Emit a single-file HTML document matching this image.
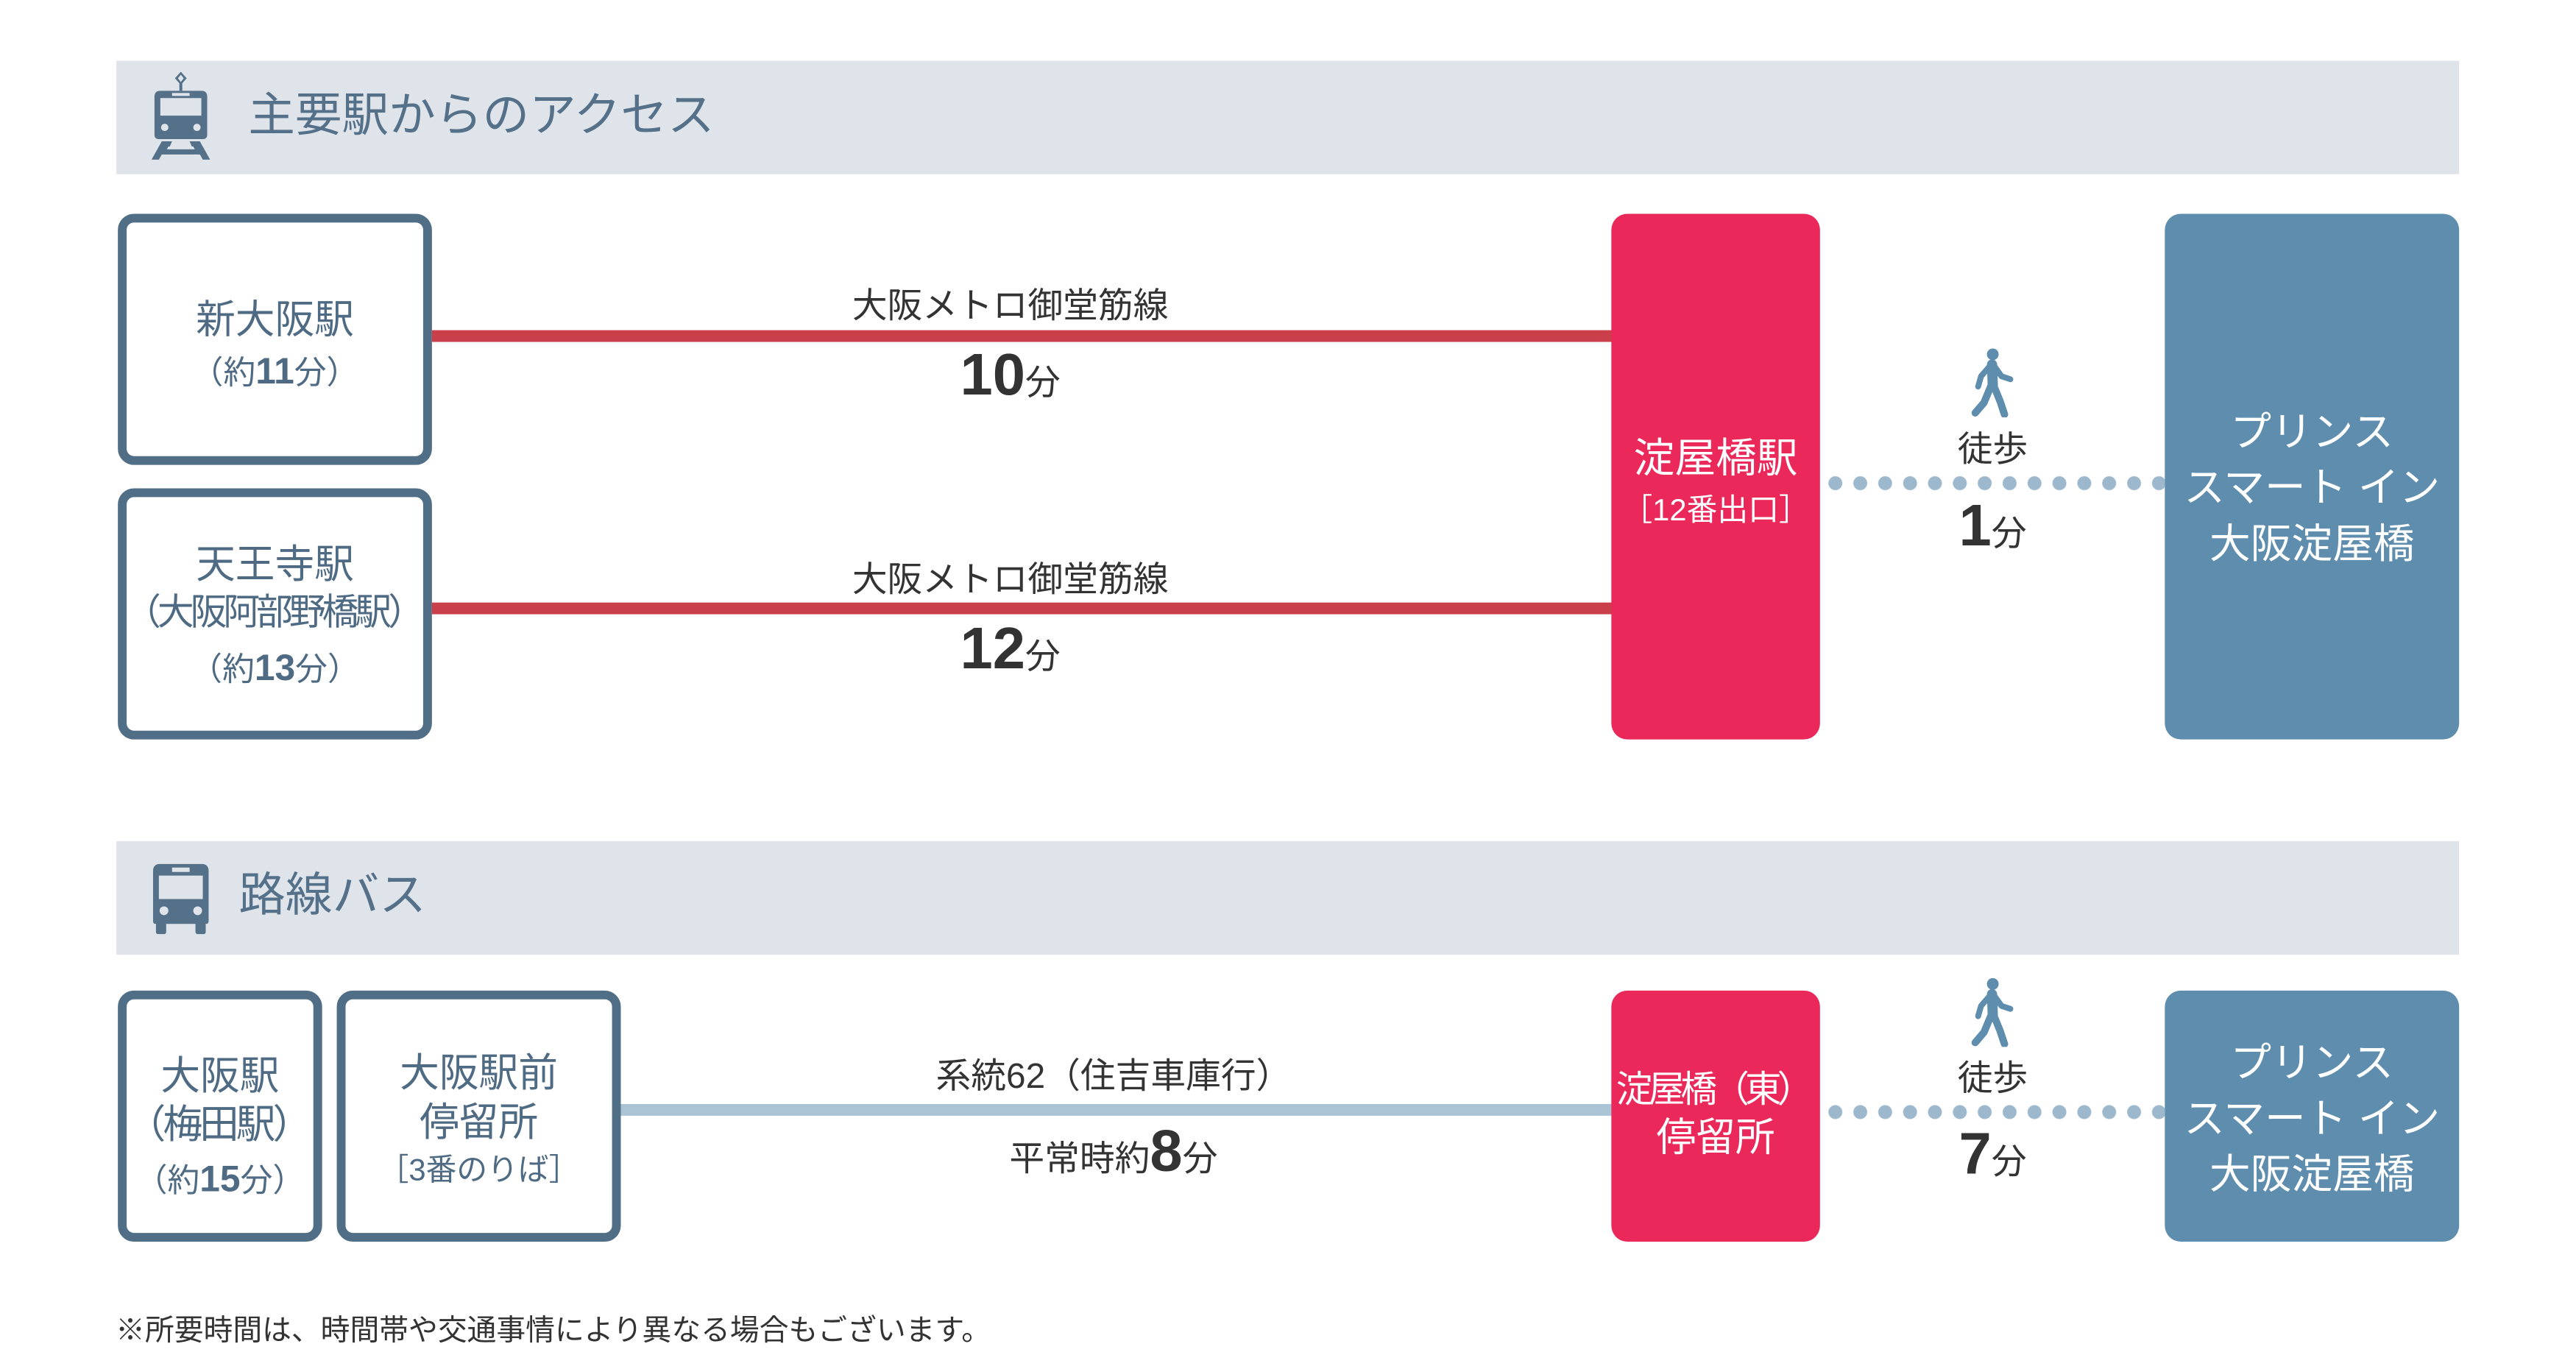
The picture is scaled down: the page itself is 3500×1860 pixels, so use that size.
<!DOCTYPE html>
<html><head><meta charset="utf-8">
<style>
*{margin:0;padding:0;box-sizing:border-box}
body{width:3500px;height:1858px;background:#fff;position:relative;overflow:hidden;font-family:"Liberation Sans","Noto Sans CJK JP",sans-serif}
#w{position:absolute;left:0;top:0;width:3520px;height:1870px;transform:scale(0.9947);transform-origin:0 0}
.a{position:absolute}
.hdr{position:absolute;left:159px;width:3200px;height:155px;background:#dfe4eb}
.ht{position:absolute;color:#557089;font-size:64px;line-height:1;white-space:nowrap}
.box{position:absolute;border:12px solid #516e87;border-radius:22px;background:#fff;color:#4f6b84}
.fill{position:absolute;border-radius:22px;color:#fff}
.t{position:absolute;left:0;right:0;text-align:center;white-space:nowrap;line-height:1}
.d{color:#333}
.n{font-family:"Liberation Sans",sans-serif;font-weight:bold}
.dots{position:absolute;height:20px;background-image:radial-gradient(circle,#9db8cc 9px,transparent 10px);background-size:34px 20px;background-repeat:repeat-x}
</style></head><body><div id="w">

<div class="hdr" style="top:83px"></div>
<svg class="a" style="left:205px;top:98px" width="84" height="122" viewBox="0 0 84 122">
<g fill="#557089">
<path d="M42 0 L50 9 L42 18 L34 9Z M42 4 L46 9 L42 14 L38 9Z" fill-rule="evenodd"/>
<rect x="40" y="16" width="4" height="10"/>
<path d="M14 26 H70 Q78 26 78 34 V86 Q78 92 72 92 H12 Q6 92 6 86 V34 Q6 26 14 26Z M14 36 V60 H70 V36Z" fill-rule="evenodd"/>
<rect x="30" y="29" width="24" height="4" fill="#dfe4eb"/>
<circle cx="20" cy="76" r="5" fill="#dfe4eb"/><circle cx="64" cy="76" r="5" fill="#dfe4eb"/>
<path d="M16 95 H30 L27 102 H57 L54 95 H68 L82 120 H72 L68 113 H16 L12 120 H2Z M23 106 H61 L59 102 H25Z" fill-rule="evenodd"/>
</g></svg>
<div class="ht" style="left:339px;top:125px">主要駅からのアクセス</div>

<div class="box" style="left:161px;top:292px;width:429px;height:343px">
<div class="t" style="top:106px;font-size:54px">新大阪駅</div>
<div class="t" style="top:178px;font-size:44px">（約<span class="n" style="font-size:50px">11</span>分）</div>
</div>
<div class="box" style="left:161px;top:667px;width:429px;height:343px">
<div class="t" style="top:65px;font-size:54px">天王寺駅</div>
<div class="t" style="top:132px;font-size:50px;letter-spacing:-5px;margin-left:-6px">（大阪阿部野橋駅）</div>
<div class="t" style="top:208px;font-size:44px">（約<span class="n" style="font-size:50px">13</span>分）</div>
</div>

<div class="a" style="left:590px;top:451px;width:1612px;height:16px;background:#c9404a"></div>
<div class="a" style="left:590px;top:823px;width:1612px;height:16px;background:#c9404a"></div>
<div class="a d" style="left:1000px;width:760px;top:378px;text-align:center;font-size:48px">大阪メトロ御堂筋線</div>
<div class="a d" style="left:1000px;width:760px;top:466px;text-align:center;font-size:48px"><span class="n" style="font-size:80px">10</span>分</div>
<div class="a d" style="left:1000px;width:760px;top:752px;text-align:center;font-size:48px">大阪メトロ御堂筋線</div>
<div class="a d" style="left:1000px;width:760px;top:840px;text-align:center;font-size:48px"><span class="n" style="font-size:80px">12</span>分</div>

<div class="fill" style="left:2201px;top:292px;width:285px;height:718px;background:#ea285a">
<div class="t" style="top:306px;font-size:56px">淀屋橋駅</div>
<div class="t" style="top:384px;font-size:42px">［12番出口］</div>
</div>

<svg class="a" style="left:2688px;top:476px" width="68" height="94" viewBox="0 0 68 94">
<g fill="none" stroke="#5f8dae" stroke-linecap="round" stroke-linejoin="round">
<circle cx="34" cy="8" r="8" fill="#5f8dae" stroke="none"/>
<path d="M33 22 L34 50" stroke-width="14"/>
<path d="M30 24 L18 38 L14 52 M36 24 L46 38 L58 42" stroke-width="8"/>
<path d="M32 50 L22 74 L10 88 M35 50 L44 72 L50 90" stroke-width="10"/>
</g></svg>
<div class="a d" style="left:2600px;width:244px;top:574px;text-align:center;font-size:48px">徒歩</div>
<div class="dots" style="left:2490px;width:467px;top:650px"></div>
<div class="a d" style="left:2600px;width:244px;top:672px;text-align:center;font-size:48px"><span class="n" style="font-size:80px">1</span>分</div>

<div class="fill" style="left:2957px;top:292px;width:402px;height:718px;background:#5f8dae">
<div class="t" style="top:270px;font-size:56px">プリンス</div>
<div class="t" style="top:346px;font-size:56px">スマート イン</div>
<div class="t" style="top:423px;font-size:56px">大阪淀屋橋</div>
</div>

<div class="hdr" style="top:1149px"></div>
<svg class="a" style="left:209px;top:1180px" width="76" height="96" viewBox="0 0 76 96">
<g fill="#557089">
<path d="M10 0 H66 Q76 0 76 10 V78 Q76 82 72 82 H4 Q0 82 0 78 V10 Q0 0 10 0Z M8 16 V48 H68 V16Z" fill-rule="evenodd"/>
<rect x="26" y="5" width="24" height="6" fill="#dfe4eb"/>
<circle cx="15" cy="64" r="6" fill="#dfe4eb"/><circle cx="61" cy="64" r="6" fill="#dfe4eb"/>
<rect x="4" y="80" width="14" height="16" rx="3"/><rect x="58" y="80" width="14" height="16" rx="3"/>
</g></svg>
<div class="ht" style="left:326px;top:1190px">路線バス</div>

<div class="box" style="left:161px;top:1353px;width:279px;height:343px">
<div class="t" style="top:78px;font-size:54px">大阪駅</div>
<div class="t" style="top:144px;font-size:54px;letter-spacing:-4px;margin-left:-6px">（梅田駅）</div>
<div class="t" style="top:220px;font-size:44px">（約<span class="n" style="font-size:50px">15</span>分）</div>
</div>
<div class="box" style="left:460px;top:1353px;width:388px;height:343px">
<div class="t" style="top:74px;font-size:54px">大阪駅前</div>
<div class="t" style="top:141px;font-size:54px">停留所</div>
<div class="t" style="top:212px;font-size:42px">［3番のりば］</div>
</div>

<div class="a" style="left:848px;top:1508px;width:1354px;height:16px;background:#aac3d5"></div>
<div class="a d" style="left:1100px;width:842px;top:1430px;text-align:center;font-size:48px">系統62（住吉車庫行）</div>
<div class="a d" style="left:1100px;width:842px;top:1526px;text-align:center;font-size:48px">平常時約<span class="n" style="font-size:80px">8</span>分</div>

<div class="fill" style="left:2201px;top:1353px;width:285px;height:343px;background:#ea285a">
<div class="t" style="top:110px;font-size:50px;letter-spacing:-6px;margin-left:-8px">淀屋橋（東）</div>
<div class="t" style="top:174px;font-size:54px">停留所</div>
</div>

<svg class="a" style="left:2688px;top:1336px" width="68" height="94" viewBox="0 0 68 94">
<g fill="none" stroke="#5f8dae" stroke-linecap="round" stroke-linejoin="round">
<circle cx="34" cy="8" r="8" fill="#5f8dae" stroke="none"/>
<path d="M33 22 L34 50" stroke-width="14"/>
<path d="M30 24 L18 38 L14 52 M36 24 L46 38 L58 42" stroke-width="8"/>
<path d="M32 50 L22 74 L10 88 M35 50 L44 72 L50 90" stroke-width="10"/>
</g></svg>
<div class="a d" style="left:2600px;width:244px;top:1433px;text-align:center;font-size:48px">徒歩</div>
<div class="dots" style="left:2490px;width:467px;top:1509px"></div>
<div class="a d" style="left:2600px;width:244px;top:1530px;text-align:center;font-size:48px"><span class="n" style="font-size:80px">7</span>分</div>

<div class="fill" style="left:2957px;top:1353px;width:402px;height:343px;background:#5f8dae">
<div class="t" style="top:71px;font-size:56px">プリンス</div>
<div class="t" style="top:147px;font-size:56px">スマート イン</div>
<div class="t" style="top:223px;font-size:56px">大阪淀屋橋</div>
</div>

<div class="a d" style="left:158px;top:1784px;font-size:40px;white-space:nowrap">※所要時間は、時間帯や交通事情により異なる場合もございます。</div>
</div></body></html>
